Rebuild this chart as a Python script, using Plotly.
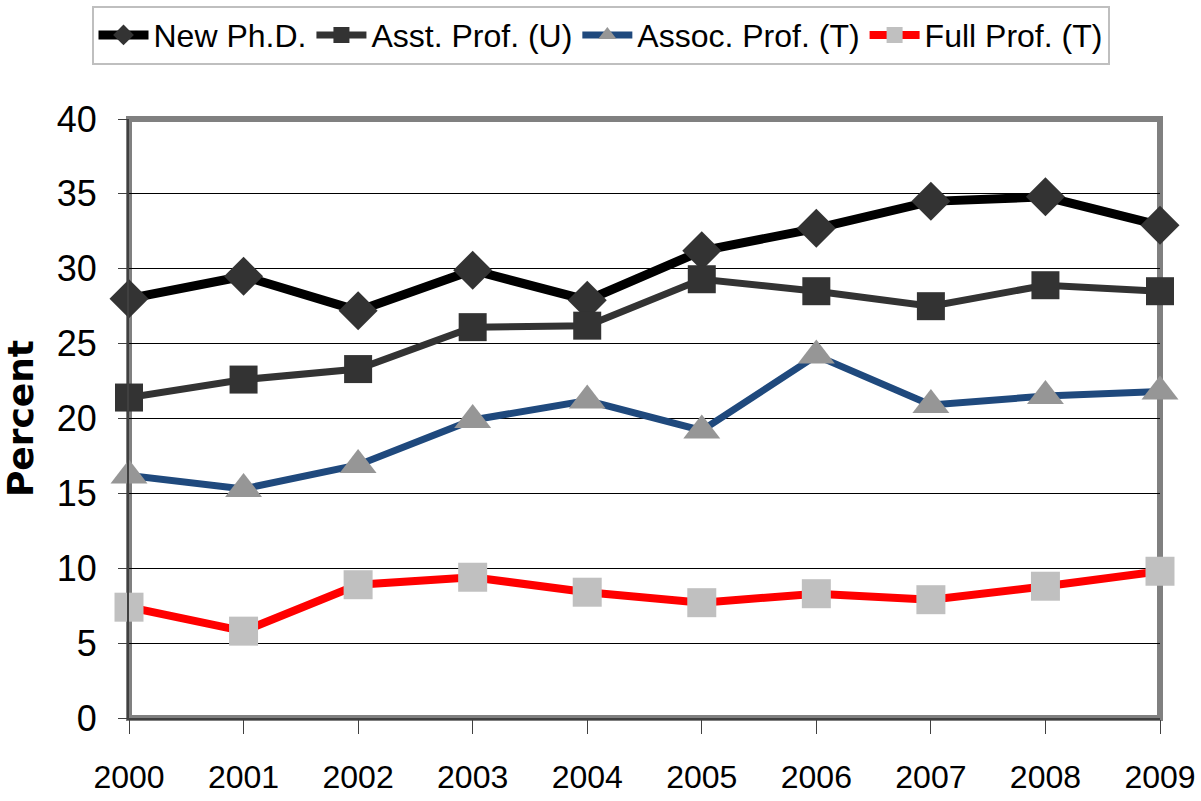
import plotly.graph_objects as go

years = [2000, 2001, 2002, 2003, 2004, 2005, 2006, 2007, 2008, 2009]
new_phd = [28.0, 29.5, 27.2, 29.9, 27.9, 31.2, 32.7, 34.5, 34.8, 32.9]
asst_prof = [21.4, 22.6, 23.3, 26.1, 26.2, 29.3, 28.5, 27.5, 28.9, 28.5]
assoc_prof = [16.2, 15.3, 16.9, 19.9, 21.2, 19.2, 24.2, 20.9, 21.5, 21.8]
full_prof = [7.4, 5.8, 8.9, 9.4, 8.4, 7.7, 8.3, 7.9, 8.8, 9.8]
y_ticks = [0, 5, 10, 15, 20, 25, 30, 35, 40]

FONT = "Liberation Sans, Arial, sans-serif"

fig = go.Figure()
series = [
    ("New Ph.D.", new_phd, "#000000", 9, "diamond", "#333333", 30),
    ("Asst. Prof. (U)", asst_prof, "#333333", 7, "square", "#333333", 28),
    ("Assoc. Prof. (T)", assoc_prof, "#1F497D", 7, "triangle-up", "#969696", 32),
    ("Full Prof. (T)", full_prof, "#FF0000", 8, "square", "#C0C0C0", 29),
]
for name, vals, lc, lw, sym, mc, ms in series:
    fig.add_trace(go.Scatter(
        x=years, y=vals, name=name, mode="lines+markers",
        line=dict(color=lc, width=lw),
        marker=dict(symbol=sym, color=mc, size=ms, line=dict(width=0)),
        cliponaxis=False,
    ))

fig.update_layout(
    width=1201, height=801,
    paper_bgcolor="white", plot_bgcolor="white",
    margin=dict(l=129, r=41, t=119, b=83, autoexpand=False),
    font=dict(family=FONT, color="black", size=30),
    showlegend=True,
    legend=dict(
        orientation="h", x=0.5, xanchor="center", y=0.993, yanchor="top",
        xref="container", yref="container",
        bordercolor="#BFBFBF", borderwidth=2, bgcolor="white",
        font=dict(family=FONT, size=32, color="black"),
        itemwidth=50, tracegroupgap=0,
    ),
    xaxis=dict(
        range=[2000, 2009], tickmode="array", tickvals=years,
        ticktext=[str(y) for y in years],
        showgrid=False, zeroline=False, automargin=False,
        showline=True, linecolor="#404040", linewidth=2,
        ticks="outside", ticklen=14, tickcolor="#404040", tickwidth=1,
        tickfont=dict(family=FONT, size=32, color="black"),
        ticklabelstandoff=16,
    ),
    yaxis=dict(
        range=[0, 40], tickmode="array", tickvals=y_ticks,
        showgrid=True, gridcolor="#000000", gridwidth=1.3,
        zeroline=False, automargin=False,
        showline=True, linecolor="#404040", linewidth=2,
        ticks="outside", ticklen=9, tickcolor="#404040", tickwidth=1,
        tickfont=dict(family=FONT, size=36, color="black"),
        ticklabelstandoff=14,
        title=dict(text="<b>Percent</b>",
                   font=dict(family="DejaVu Sans, Verdana, sans-serif", size=36),
                   standoff=20),
    ),
)

# gray frame around plot area
fig.add_shape(type="rect", xref="paper", yref="paper", x0=0, y0=0, x1=1, y1=1,
              line=dict(color="#808080", width=6), layer="below")

fig.write_html("out.html", config={"displayModeBar": False},
               post_script="document.body.style.margin='0';")
